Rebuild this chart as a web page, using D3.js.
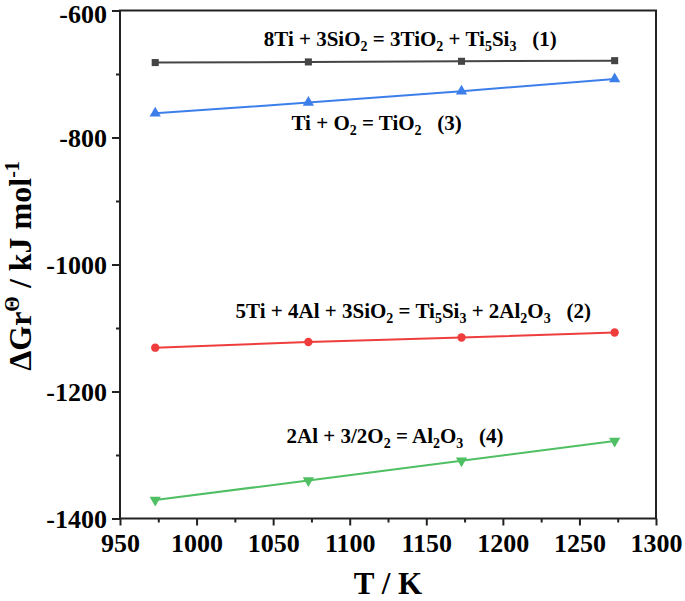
<!DOCTYPE html>
<html><head><meta charset="utf-8">
<script src="https://cdn.jsdelivr.net/npm/d3@7"></script>
<style>body{margin:0;background:#fff}svg{display:block}</style>
</head><body>
<svg id="c" width="685" height="601"></svg>
<script>
const temps = [973, 1073, 1173, 1273];
const r1 = [-682, -681, -680, -679];
const r2 = [-1131, -1122, -1115, -1107];
const r3 = [-762, -745, -727, -708];
const r4 = [-1371, -1340, -1309, -1278];
const xTicks = [950, 1000, 1050, 1100, 1150, 1200, 1250, 1300];
const yTicks = [-600, -800, -1000, -1200, -1400];

const series = [
  {name: "(1)", values: r1, color: "#454545", sym: d3.symbolSquare, size: 50,
   label: [["8Ti + 3SiO",0],["2",1],[" = 3TiO",0],["2",1],[" + Ti",0],["5",1],["Si",0],["3",1],["   (1)",0]],
   lx: 1139.5, ly: -656},
  {name: "(2)", values: r2, color: "#ef3d3d", sym: d3.symbolCircle, size: 55,
   label: [["5Ti + 4Al + 3SiO",0],["2",1],[" = Ti",0],["5",1],["Si",0],["3",1],[" + 2Al",0],["2",1],["O",0],["3",1],["   (2)",0]],
   lx: 1141.5, ly: -1084},
  {name: "(3)", values: r3, color: "#3d7fea", sym: d3.symbolTriangle, size: 55, rot: 0,
   label: [["Ti + O",0],["2",1],[" = TiO",0],["2",1],["   (3)",0]],
   lx: 1117.6, ly: -788},
  {name: "(4)", values: r4, color: "#4fbf63", sym: d3.symbolTriangle, size: 55, rot: 180,
   label: [["2Al + 3/2O",0],["2",1],[" = Al",0],["2",1],["O",0],["3",1],["   (4)",0]],
   lx: 1129.6, ly: -1281}
];

const svg = d3.select("#c");
const L = 120, T = 10.5, W = 536, H = 508;
const x = d3.scaleLinear().domain([950, 1300]).range([L, L + W]);
const y = d3.scaleLinear().domain([-1400, -600]).range([T + H, T]);
const font = "Times New Roman, Liberation Serif, DejaVu Serif, serif";

svg.append("rect").attr("x", L).attr("y", T).attr("width", W).attr("height", H)
  .attr("fill", "none").attr("stroke", "#222").attr("stroke-width", 2);

const xAxis = svg.append("g").attr("transform", `translate(0,${T + H})`)
  .call(d3.axisBottom(x).tickValues(xTicks).tickSize(7).tickPadding(8).tickFormat(d3.format("d")));
const xMinor = svg.append("g").attr("transform", `translate(0,${T + H})`)
  .call(d3.axisBottom(x).tickValues(d3.range(975, 1300, 50)).tickSize(4).tickFormat(""));
const yAxis = svg.append("g").attr("transform", `translate(${L},0)`)
  .call(d3.axisLeft(y).tickValues(yTicks).tickSize(8).tickPadding(5).tickFormat(d => String(d)));
const yMinor = svg.append("g").attr("transform", `translate(${L},0)`)
  .call(d3.axisLeft(y).tickValues([-700, -900, -1100, -1300]).tickSize(4).tickFormat(""));
[xAxis, xMinor, yAxis, yMinor].forEach(g => {
  g.attr("font-family", font).attr("font-size", 26).attr("font-weight", "bold");
  g.select(".domain").remove();
  g.selectAll("line").attr("stroke", "#222").attr("stroke-width", 2);
  g.selectAll("text").attr("fill", "#000");
});
yAxis.selectAll("text").attr("dy", d => d === -600 ? "0.48em" : "0.36em");

const line = d3.line().x(d => x(d[0])).y(d => y(d[1]));
series.forEach(s => {
  const pts = temps.map((t, i) => [t, s.values[i]]);
  svg.append("path").datum(pts).attr("d", line).attr("fill", "none")
    .attr("stroke", s.color).attr("stroke-width", 2);
  svg.selectAll(null).data(pts).enter().append("path")
    .attr("d", d3.symbol().type(s.sym).size(s.size))
    .attr("transform", d => `translate(${x(d[0])},${y(d[1])}) rotate(${s.rot || 0})`)
    .attr("fill", s.color);
  const tx = svg.append("text").attr("x", x(s.lx)).attr("y", y(s.ly))
    .attr("text-anchor", "middle").attr("font-family", font).attr("font-weight", "bold")
    .attr("font-size", 21).style("white-space", "pre").attr("fill", "#000");
  let shifted = false;
  s.label.forEach(([t, sub]) => {
    const sp = tx.append("tspan").text(t);
    if (sub && !shifted) { sp.attr("dy", 5).attr("font-size", 14); shifted = true; }
    else if (sub) { sp.attr("font-size", 14); }
    else if (shifted) { sp.attr("dy", -5); shifted = false; }
  });
});

svg.append("text").attr("x", 388).attr("y", 594).attr("text-anchor", "middle")
  .attr("font-family", font).attr("font-weight", "bold").attr("font-size", 31)
  .text("T / K");
const yl = svg.append("text").attr("transform", "translate(31,266) rotate(-90)")
  .attr("text-anchor", "middle").attr("font-family", font).attr("font-weight", "bold")
  .attr("font-size", 32);
yl.append("tspan").text("ΔGr");
yl.append("tspan").attr("dy", -12).attr("font-size", 20).text("Θ");
yl.append("tspan").attr("dy", 12).text(" / kJ mol");
yl.append("tspan").attr("dy", -12).attr("font-size", 20).text("-1");
</script>
</body></html>
